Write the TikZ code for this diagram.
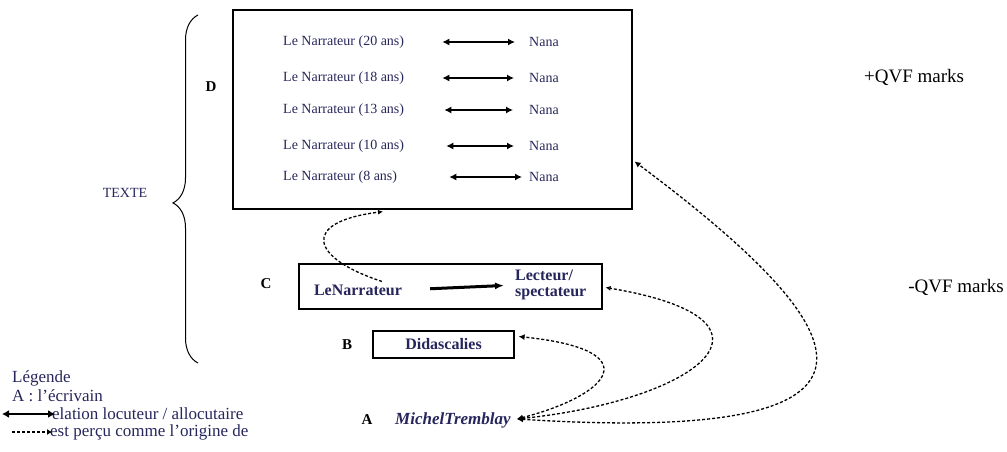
\documentclass[tikz,border=0pt]{standalone}
\usepackage{fontspec}
\setmainfont{Liberation Serif}
\usepackage{xcolor}
\usepackage{tikz}
\usetikzlibrary{arrows.meta,decorations.pathreplacing,calc,positioning}

\definecolor{inkblue}{RGB}{38,38,92}

\begin{document}
\begin{tikzpicture}[x=1pt,y=-1pt]
        % Define the styles for boxes, texts and arrows
        \tikzstyle{box}=[draw, line width=1.2pt, inner sep=0pt];
        \tikzstyle{entry}=[inner sep=0pt, text=inkblue, font=\fontsize{14}{16}\selectfont];
        \tikzstyle{actor}=[inner sep=0pt, text=inkblue, font=\fontsize{16}{18}\selectfont\bfseries];
        \tikzstyle{letter}=[inner sep=0pt, font=\fontsize{15}{17}\selectfont\bfseries];
        \tikzstyle{legend}=[inner sep=0pt, anchor=west, text=inkblue, font=\fontsize{17}{18}\selectfont];
        \tikzstyle{rel}=[{Latex[length=7pt,width=7pt]}-{Latex[length=7pt,width=7pt]}, line width=1.3pt];
        \tikzstyle{relthick}=[rel, line width=2.6pt];
        \tikzstyle{percu}=[dash pattern=on 3pt off 2pt, line width=1.3pt];

        \useasboundingbox (0,0) rectangle (1007,452);

        % Box D with the five narrator ages
        \node[box, minimum width=399pt, minimum height=199pt] (dbox) at (432.5,109.5) {};
        \foreach \age/\y/\sa/\sb/\w in {20/42/38/14/2.6, 18/78/38/15/1.3, 13/110/40/16/1.3, 10/146/42/15/2.6, 8/177/52/7/1.3} {
            \node[entry, anchor=west] (narr\age) at (283,\y) {Le Narrateur (\age{} ans)};
            \node[entry, anchor=west] (nana\age) at (529,\y) {Nana};
            \draw[rel, line width=\w pt, shorten <=\sa pt, shorten >=\sb pt] (narr\age.east) -- (nana\age.west);
        }

        % Box C
        \node[box, minimum width=303pt, minimum height=45pt] (cbox) at (450.5,286.5) {};
        \node[actor] (lenarr) at (358,290) {LeNarrateur};
        \node[actor, anchor=west, align=left, font=\fontsize{16}{16}\selectfont\bfseries] (lecteur) at (515,285) {Lecteur/\\spectateur};
        \draw[-{Latex[length=9pt,width=7pt]}, line width=3pt, shorten <=28pt, shorten >=11pt] (lenarr.east) -- (lecteur.west);

        % Box B
        \node[box, actor, minimum width=141pt, minimum height=27pt] (bbox) at (443.5,344.5) {Didascalies};

        % The writer
        \node[actor, anchor=west, font=\fontsize{17}{19}\selectfont\bfseries\itshape] (tremblay) at (395,420) {MichelTremblay};
        \coordinate (orig) at ($(tremblay.east)+(6,-1)$);

        % Letters
        \node[letter] (ld) at (211,87) {D};
        \node[letter] (lc) at (266,284) {C};
        \node[letter] (lb) at (347,345) {B};
        \node[letter] (la) at (367,420) {A};

        % Brace and TEXTE
        \draw[line width=1pt, decorate, decoration={brace, amplitude=25pt, aspect=0.46}] (198,363) -- (198,15);
        \node[entry, font=\fontsize{14}{15}\selectfont] (texte) at (125,193) {TEXTE};

        % QVF marks
        \node[inner sep=0pt, anchor=west, font=\fontsize{19}{21}\selectfont] (plusqvf) at (864,77) {+QVF marks};
        \node[inner sep=0pt, anchor=east, font=\fontsize{19}{21}\selectfont] (moinsqvf) at (1004,287) {-QVF marks};

        % Dashed curves: origin of
        \draw[percu, {Latex[length=6pt,width=6pt]}-{Latex[length=6pt,width=6pt]}] (orig) .. controls (610,395) and (650,350) .. ($(bbox.east)+(4,-8)$);
        \draw[percu, {Latex[length=6pt,width=6pt]}-{Latex[length=5pt,width=5pt,open]}] (orig) .. controls (700,400) and (800,320) .. ($(cbox.east)+(3,1)$);
        \draw[percu, {Latex[length=6pt,width=6pt]}-{Latex[length=6pt,width=6pt]}] (orig) .. controls (930,445) and (860,330) .. ($(dbox.east)+(2,52)$);
        \coordinate (cstart) at ($(lenarr.north)+(24,-3)$);
        \draw[percu, -{Latex[length=5pt,width=5pt]}] (cstart) .. controls (310,258) and (300,222) .. ($(dbox.south)+(-49.5,2)$);

        % Legend
        \node[legend] (leg) at (12,378) {Légende};
        \node[legend] (legA) at (12,396) {A : l'écrivain};
        \node[legend] (legrel) at (52,414) {elation locuteur / allocutaire};
        \node[legend] (legorig) at (50,432) {est perçu comme l’origine de};
        \coordinate (relfrom) at (2,414);
        \coordinate (relto) at (55,414);
        \coordinate (origfrom) at (12,432);
        \coordinate (origto) at (52,432);
        \draw[relthick, {Latex[length=7pt,width=8pt]}-{Latex[length=7pt,width=8pt]}] (relfrom) -- (relto);
        \draw[percu, -{Latex[length=5pt,width=6pt]}] (origfrom) -- (origto);
\end{tikzpicture}
\end{document}
